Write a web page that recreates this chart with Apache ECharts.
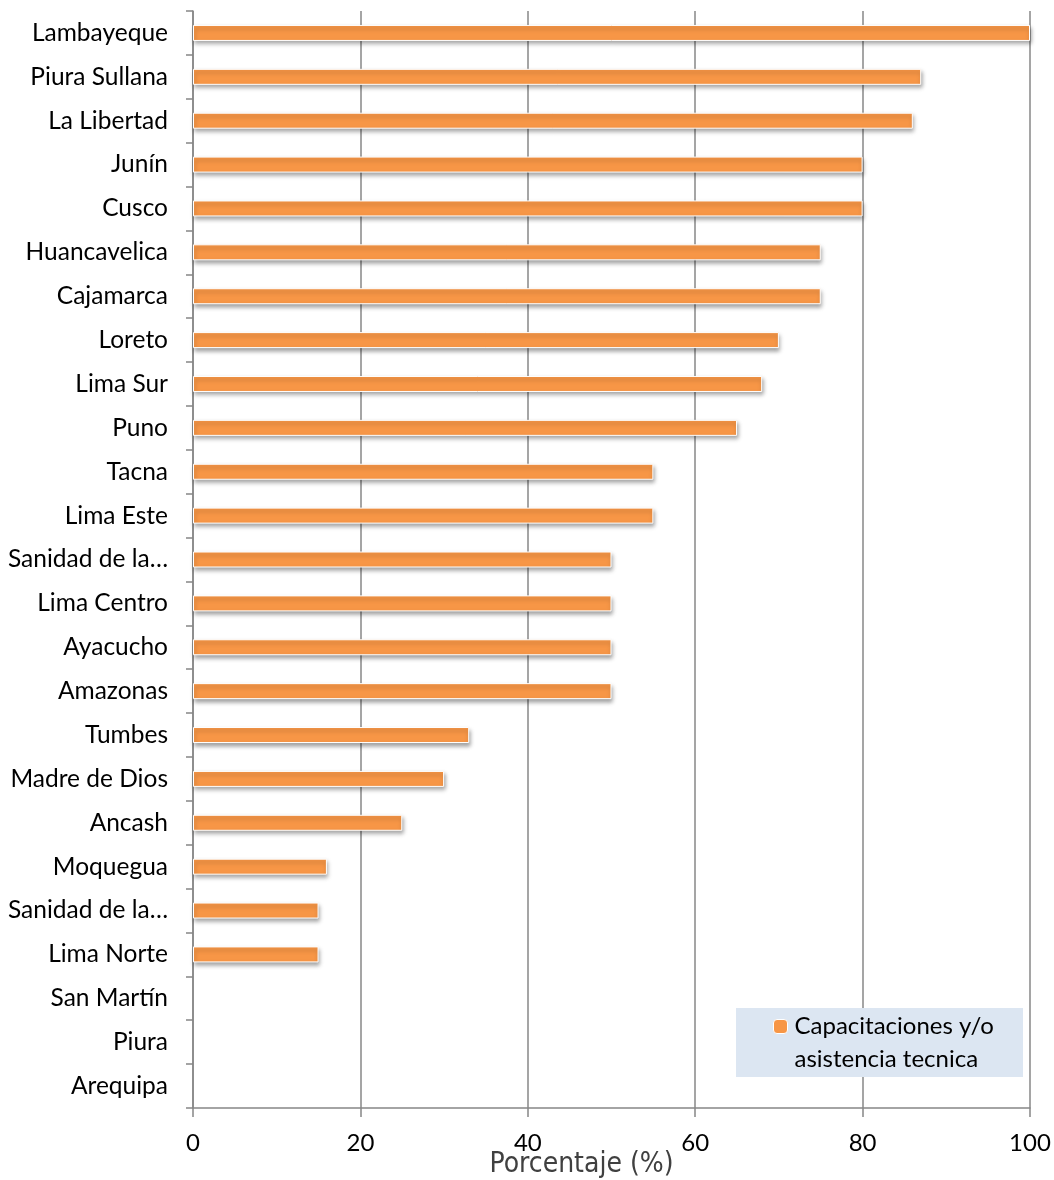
<!DOCTYPE html>
<html><head><meta charset="utf-8">
<script src="https://cdn.jsdelivr.net/npm/echarts@6/dist/echarts.min.js"></script>
<style>html,body{margin:0;padding:0;background:#fff}#c{width:1054px;height:1180px}</style>
</head><body><div id="c"></div>
<script>
const categories = ["Lambayeque","Piura Sullana","La Libertad","Junín","Cusco","Huancavelica","Cajamarca","Loreto","Lima Sur","Puno","Tacna","Lima Este","Sanidad de la…","Lima Centro","Ayacucho","Amazonas","Tumbes","Madre de Dios","Ancash","Moquegua","Sanidad de la…","Lima Norte","San Martín","Piura","Arequipa"];
const values = [100,87,86,80,80,75,75,70,68,65,55,55,50,50,50,50,33,30,25,16,15,15,0,0,0];
const seriesName = "Capacitaciones y/o\nasistencia tecnica";
const xTicks = [0,20,40,60,80,100];

const chart = echarts.init(document.getElementById('c'), null, {renderer:'canvas'});
const font = 'Lato, "Open Sans", sans-serif';
const barData = values.map(v => v === 0
  ? {value: v, itemStyle:{borderWidth:0, shadowBlur:0, shadowOffsetX:0, shadowOffsetY:0, shadowColor:'transparent'}}
  : v);
chart.setOption({
  animation:false,
  backgroundColor:'#fff',
  grid:{left:193,right:24,top:11,bottom:72,containLabel:false,outerBoundsMode:'none'},
  xAxis:{type:'value',min:xTicks[0],max:xTicks[xTicks.length-1],interval:20,
    name:'Porcentaje (%)',nameLocation:'middle',nameGap:43,nameMoveOverlap:false,
    nameTextStyle:{fontFamily:'"Liberation Sans Narrow", "DejaVu Sans Condensed", sans-serif',fontSize:28,color:'#404040',padding:[0,60,0,0]},
    axisLine:{show:true,lineStyle:{color:'#878787',width:1.5}},
    axisTick:{show:true,length:9,lineStyle:{color:'#878787',width:1.5}},
    axisLabel:{margin:23,fontSize:24,color:'#000',fontFamily:font},
    splitLine:{show:true,lineStyle:{color:'#878787',width:1.5}}},
  yAxis:{type:'category',inverse:true,data:categories,
    axisLine:{show:true,lineStyle:{color:'#878787',width:1.5}},
    axisTick:{show:true,length:7,lineStyle:{color:'#878787',width:1.5}},
    axisLabel:{margin:25,fontSize:24.5,color:'#000',fontFamily:font}},
  legend:{show:true,left:773,top:977,padding:0,itemWidth:14,itemHeight:14,z:10,
    formatter: name => '\n' + name,
    textStyle:{fontSize:24,lineHeight:33,color:'#000',fontFamily:font,padding:[0,0,0,2]},
    itemStyle:{borderColor:'#fff',borderWidth:1}},
  graphic:[{type:'rect',left:736,top:1008,z:5,shape:{width:287,height:69},style:{fill:'#DCE6F2'}}],
  series:[{type:'bar',name:seriesName,data:barData,barWidth:16,
    itemStyle:{color:'#F79646',borderColor:'#fff',borderWidth:1,shadowColor:'rgba(0,0,0,0.35)',shadowBlur:4,shadowOffsetX:1,shadowOffsetY:3}}]
});
</script></body></html>
